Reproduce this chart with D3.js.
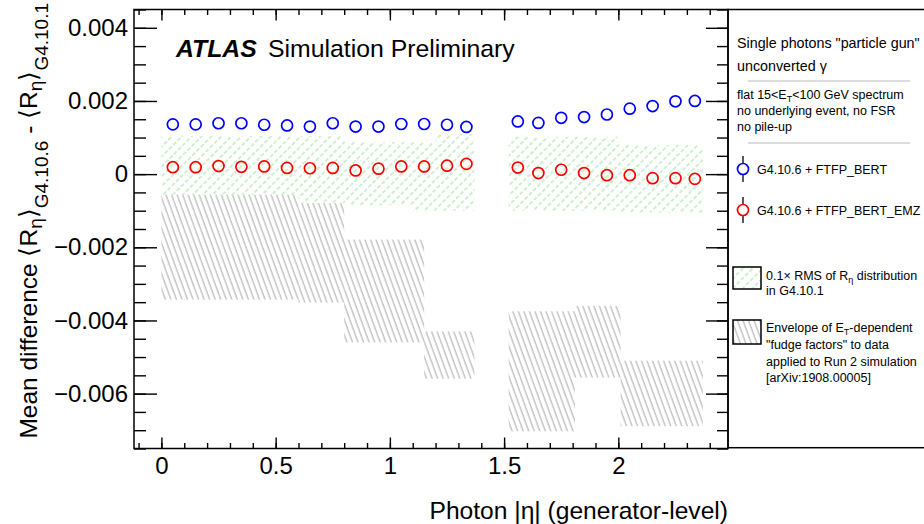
<!DOCTYPE html>
<html>
<head>
<meta charset="utf-8">
<script src="https://cdn.jsdelivr.net/npm/d3@7"></script>
<style>
  body { margin: 0; background: #fff; }
  svg { font-family: "Liberation Sans", Arial, Helvetica, sans-serif; }
</style>
</head>
<body>
<svg id="chart" width="924" height="524"></svg>
<script>
// Photon |eta| bins used for the points (crack 1.37-1.52 excluded)
const etaLow  = [0, 0.1, 0.2, 0.3, 0.4, 0.5, 0.6, 0.7, 0.8, 0.9, 1.0, 1.1, 1.2, 1.3,
                 1.52, 1.6, 1.7, 1.8, 1.9, 2.0, 2.1, 2.2, 2.3]
const etaHigh = [0.1, 0.2, 0.3, 0.4, 0.5, 0.6, 0.7, 0.8, 0.9, 1.0, 1.1, 1.2, 1.3, 1.37,
                 1.6, 1.7, 1.8, 1.9, 2.0, 2.1, 2.2, 2.3, 2.37]

// Mean difference <R_eta>(G4.10.6) - <R_eta>(G4.10.1)
const meanDiffBert = [0.00136, 0.00136, 0.00139, 0.00139, 0.00135, 0.00133, 0.00130, 0.00139, 0.00130, 0.00130, 0.00137, 0.00137, 0.00135, 0.00129,
                      0.00144, 0.00140, 0.00154, 0.00156, 0.00163, 0.00179, 0.00186, 0.00199, 0.00200]
const meanDiffEmz  = [0.00019, 0.00019, 0.00022, 0.00020, 0.00021, 0.00017, 0.00016, 0.00017, 0.00010, 0.00015, 0.00021, 0.00021, 0.00023, 0.00028,
                      0.00018, 0.00003, 0.00012, 0.00003, -0.00003, -0.00003, -0.00011, -0.00011, -0.00013]

// 0.1 x RMS of R_eta distribution in G4.10.1 (band edges per bin)
const rmsHigh = [0.00104, 0.00104, 0.00104, 0.00104, 0.00104, 0.00104, 0.00104, 0.00104, 0.00088, 0.00088, 0.00088, 0.00088, 0.00110, 0.00110,
                 0.00102, 0.00102, 0.00102, 0.00102, 0.00102, 0.00080, 0.00080, 0.00080, 0.00080]
const rmsLow  = [-0.00056, -0.00056, -0.00056, -0.00056, -0.00056, -0.00056, -0.00078, -0.00078, -0.00085, -0.00085, -0.00085, -0.00100, -0.00100, -0.00100,
                 -0.00100, -0.00100, -0.00100, -0.00100, -0.00100, -0.00105, -0.00105, -0.00105, -0.00105]

// Envelope of the ET-dependent fudge factors, in the coarse photon ID eta bins
const fudgeEtaLow  = [0, 0.6, 0.8, 1.15, 1.52, 1.81, 2.01]
const fudgeEtaHigh = [0.6, 0.8, 1.15, 1.37, 1.81, 2.01, 2.37]
const fudgeHigh = [-0.00056, -0.00079, -0.00179, -0.00430, -0.00375, -0.00360, -0.00510]
const fudgeLow  = [-0.00343, -0.00351, -0.00460, -0.00559, -0.00703, -0.00556, -0.00689]

const xMajorTicks = [0, 0.5, 1, 1.5, 2]
const yMajorTicks = [-0.006, -0.004, -0.002, 0, 0.002, 0.004]

const svg = d3.select("#chart")
const frame = {left: 134, right: 728, top: 9.5, bottom: 448.5}

const x = d3.scaleLinear().domain([-0.12, 2.48]).range([frame.left, frame.right])
const y = d3.scaleLinear().domain([-0.0075, 0.0045]).range([frame.bottom, frame.top])

// Hatch patterns (grey "\\" for fudge factors, dashed green "//" for RMS)
const defs = svg.append("defs")
defs.append("pattern")
    .attr("id", "hatchGrey")
    .attr("patternUnits", "userSpaceOnUse")
    .attr("width", 5.2).attr("height", 10)
    .attr("patternTransform", "rotate(-20)")
  .append("line")
    .attr("x1", 1).attr("y1", 0).attr("x2", 1).attr("y2", 10)
    .attr("stroke", "#b3b3b3").attr("stroke-width", 1.1)
defs.append("pattern")
    .attr("id", "hatchGreen")
    .attr("patternUnits", "userSpaceOnUse")
    .attr("width", 7).attr("height", 12)
    .attr("patternTransform", "rotate(45)")
  .append("line")
    .attr("x1", 1).attr("y1", 0).attr("x2", 1).attr("y2", 12)
    .attr("stroke", "#93dc93").attr("stroke-width", 0.9)
    .attr("stroke-dasharray", "4,2")

// RMS band
svg.append("g")
  .selectAll("rect")
  .data(etaLow.map((d, i) => ({lo: d, hi: etaHigh[i], top: rmsHigh[i], bot: rmsLow[i]})))
  .enter()
  .append("rect")
    .attr("x", d => x(d.lo))
    .attr("width", d => x(d.hi) - x(d.lo))
    .attr("y", d => y(d.top))
    .attr("height", d => y(d.bot) - y(d.top))
    .attr("fill", "url(#hatchGreen)")

// Fudge factor envelope
svg.append("g")
  .selectAll("rect")
  .data(fudgeEtaLow.map((d, i) => ({lo: d, hi: fudgeEtaHigh[i], top: fudgeHigh[i], bot: fudgeLow[i]})))
  .enter()
  .append("rect")
    .attr("x", d => x(d.lo))
    .attr("width", d => x(d.hi) - x(d.lo))
    .attr("y", d => y(d.top))
    .attr("height", d => y(d.bot) - y(d.top))
    .attr("fill", "url(#hatchGrey)")

// Points, drawn at bin centres
const drawPoints = (values, colour) => {
  svg.append("g")
    .selectAll("circle")
    .data(values)
    .enter()
    .append("circle")
      .attr("cx", (d, i) => x((etaLow[i] + etaHigh[i]) / 2))
      .attr("cy", d => y(d))
      .attr("r", 5.5)
      .attr("fill", "none")
      .attr("stroke", colour)
      .attr("stroke-width", 1.7)
}
drawPoints(meanDiffBert, "#0000ff")
drawPoints(meanDiffEmz, "#ff0000")

// Axes: major + minor ticks on all four sides, pointing inwards
const xMinor = d3.range(-1, 25).map(i => i / 10)
const yMinor = d3.range(-15, 10).map(i => i / 2000)
const yFormat = d => d === 0 ? "0" : d3.format(".3f")(d)

const styleAxis = g => {
  g.select(".domain").remove()
  g.selectAll("line").attr("stroke", "#000").attr("stroke-width", 1.4)
  g.selectAll("text").attr("fill", "#000").attr("font-size", 24)
    .attr("font-family", "'Liberation Sans', Arial, sans-serif")
}

svg.append("g").attr("transform", `translate(0,${frame.bottom})`)
  .call(d3.axisBottom(x).tickValues(xMinor).tickFormat("").tickSize(-5.5)).call(styleAxis)
svg.append("g").attr("transform", `translate(0,${frame.bottom})`)
  .call(d3.axisBottom(x).tickValues(xMajorTicks).tickFormat(d3.format("~g")).tickSize(-11).tickPadding(8.5)).call(styleAxis)
svg.append("g").attr("transform", `translate(0,${frame.top})`)
  .call(d3.axisTop(x).tickValues(xMinor).tickFormat("").tickSize(-5.5)).call(styleAxis)
svg.append("g").attr("transform", `translate(0,${frame.top})`)
  .call(d3.axisTop(x).tickValues(xMajorTicks).tickFormat("").tickSize(-11)).call(styleAxis)

svg.append("g").attr("transform", `translate(${frame.left},0)`)
  .call(d3.axisLeft(y).tickValues(yMinor).tickFormat("").tickSize(-12)).call(styleAxis)
svg.append("g").attr("transform", `translate(${frame.left},0)`)
  .call(d3.axisLeft(y).tickValues(yMajorTicks).tickFormat(yFormat).tickSize(-23).tickPadding(6)).call(styleAxis)
svg.append("g").attr("transform", `translate(${frame.right},0)`)
  .call(d3.axisRight(y).tickValues(yMinor).tickFormat("").tickSize(-11)).call(styleAxis)
svg.append("g").attr("transform", `translate(${frame.right},0)`)
  .call(d3.axisRight(y).tickValues(yMajorTicks).tickFormat("").tickSize(-22)).call(styleAxis)

// Frame around the plot
svg.append("rect")
  .attr("x", frame.left).attr("y", frame.top)
  .attr("width", frame.right - frame.left).attr("height", frame.bottom - frame.top)
  .attr("fill", "none").attr("stroke", "#000").attr("stroke-width", 1.5)

// Writes text made of [string, baseline shift, font size] pieces (for subscripts)
const addRich = (sel, parts) => {
  let prev = 0
  parts.forEach(([t, shift, size]) => {
    sel.append("tspan").attr("dy", shift - prev).attr("font-size", size).text(t)
    prev = shift
  })
  return sel
}

// Axis titles
svg.append("text")
  .attr("x", frame.right).attr("y", 519)
  .attr("text-anchor", "end").attr("font-size", 24.6)
  .text("Photon |η| (generator-level)")

addRich(svg.append("text")
  .attr("transform", "translate(37,3) rotate(-90)")
  .attr("text-anchor", "end").attr("font-size", 24.5), [
    ["Mean difference ⟨R", 0, 24.5], ["η", 5, 19], ["⟩", 0, 24.5], ["G4.10.6", 11, 19],
    [" - ⟨R", 0, 24.5], ["η", 5, 19], ["⟩", 0, 24.5], ["G4.10.1", 11, 19]
  ])

// ATLAS label
svg.append("text")
  .attr("x", 176).attr("y", 57)
  .attr("font-size", 24.8).attr("font-weight", "bold").attr("font-style", "italic")
  .text("ATLAS")
svg.append("text")
  .attr("x", 268).attr("y", 57)
  .attr("font-size", 24.8)
  .text("Simulation Preliminary")

// Legend panel on the right
const legend = svg.append("g")
legend.append("rect")
  .attr("x", frame.right).attr("y", frame.top)
  .attr("width", 220).attr("height", frame.bottom - frame.top - 0.8)
  .attr("fill", "none").attr("stroke", "#000").attr("stroke-width", 1.5)

legend.append("text").attr("x", 737).attr("y", 48).attr("font-size", 14.3)
  .text("Single photons \"particle gun\"")
legend.append("text").attr("x", 737).attr("y", 71).attr("font-size", 14.3)
  .text("unconverted γ")

const separators = [81, 143]
legend.selectAll("line.sep")
  .data(separators)
  .enter()
  .append("line")
    .attr("class", "sep")
    .attr("x1", 748).attr("x2", 910)
    .attr("y1", d => d).attr("y2", d => d)
    .attr("stroke", "#bbbbbb").attr("stroke-width", 1.2)

addRich(legend.append("text").attr("x", 737).attr("y", 99).attr("font-size", 12.5), [
  ["flat 15<E", 0, 12.5], ["T", 3, 9], ["<100 GeV spectrum", 0, 12.5]
])
legend.append("text").attr("x", 737).attr("y", 115).attr("font-size", 12.5)
  .text("no underlying event, no FSR")
legend.append("text").attr("x", 737).attr("y", 131).attr("font-size", 12.5)
  .text("no pile-up")

// Point entries with small vertical error-bar stubs
const pointEntries = [
  {label: "G4.10.6 + FTFP_BERT", colour: "#0000ff", y: 169},
  {label: "G4.10.6 + FTFP_BERT_EMZ", colour: "#ff0000", y: 210}
]
pointEntries.forEach(e => {
  legend.append("line").attr("x1", 743).attr("x2", 743).attr("y1", e.y - 13).attr("y2", e.y - 5.5)
    .attr("stroke", "#000").attr("stroke-width", 1.3)
  legend.append("line").attr("x1", 743).attr("x2", 743).attr("y1", e.y + 5.5).attr("y2", e.y + 13)
    .attr("stroke", "#000").attr("stroke-width", 1.3)
  legend.append("circle").attr("cx", 743).attr("cy", e.y).attr("r", 5.5)
    .attr("fill", "none").attr("stroke", e.colour).attr("stroke-width", 1.7)
  legend.append("text").attr("x", 757).attr("y", e.y + 4.5).attr("font-size", 12.5).text(e.label)
})

// Hatched entries
legend.append("rect").attr("x", 733).attr("y", 267).attr("width", 28).attr("height", 22)
  .attr("fill", "url(#hatchGreen)").attr("stroke", "#000").attr("stroke-width", 1.5)
addRich(legend.append("text").attr("x", 766).attr("y", 280).attr("font-size", 12.5), [
  ["0.1× RMS of R", 0, 12.5], ["η", 3, 9], [" distribution", 0, 12.5]
])
legend.append("text").attr("x", 766).attr("y", 295).attr("font-size", 12.5).text("in G4.10.1")

legend.append("rect").attr("x", 733).attr("y", 320).attr("width", 28).attr("height", 24)
  .attr("fill", "url(#hatchGrey)").attr("stroke", "#000").attr("stroke-width", 1.5)
addRich(legend.append("text").attr("x", 766).attr("y", 332).attr("font-size", 12.5), [
  ["Envelope of E", 0, 12.5], ["T", 3, 9], ["-dependent", 0, 12.5]
])
const envelopeLines = ["\"fudge factors\" to data", "applied to Run 2 simulation", "[arXiv:1908.00005]"]
legend.selectAll("text.env")
  .data(envelopeLines)
  .enter()
  .append("text")
    .attr("class", "env")
    .attr("x", 766).attr("y", (d, i) => 349 + i * 16.5)
    .attr("font-size", 12.5)
    .text(d => d)
</script>
</body>
</html>
